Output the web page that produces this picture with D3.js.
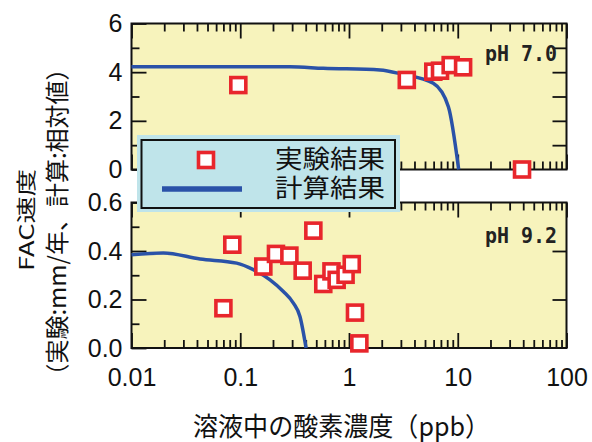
<!DOCTYPE html>
<html><head><meta charset="utf-8">
<script src="https://cdn.jsdelivr.net/npm/d3@7"></script>
<style>html,body{margin:0;padding:0;background:#fff;}svg{display:block;}</style>
</head><body>
<script>
// ---- data ----
const xTickValues = [0.01, 0.1, 1, 10, 100];
const xTickLabels = ["0.01", "0.1", "1", "10", "100"];
const topYTicks = [0, 2, 4, 6];
const topYLabels = ["0", "2", "4", "6"];
const botYTicks = [0, 0.2, 0.4, 0.6];
const botYLabels = ["0.0", "0.2", "0.4", "0.6"];

// pH 7.0 experiment (ppb, relative)
const topExpX = [0.096, 3.40, 5.96, 6.87, 8.61, 11.2, 39];
const topExpY = [3.47, 3.68, 4.02, 4.06, 4.29, 4.20, 0];
// pH 7.0 calculation
const topCalcX = [0.01, 0.1, 0.286, 0.58, 1.93, 3.05, 5.96, 8.2, 10.2];
const topCalcY = [4.22, 4.22, 4.22, 4.16, 4.09, 3.92, 3.54, 2.58, 0];

// pH 9.2 experiment
const botExpX = [0.070, 0.0845, 0.163, 0.213, 0.283, 0.375, 0.47, 0.58, 0.69, 0.77, 0.93, 1.06, 1.135, 1.245];
const botExpY = [0.164, 0.426, 0.336, 0.388, 0.381, 0.319, 0.484, 0.264, 0.316, 0.281, 0.302, 0.346, 0.146, 0.019];
// pH 9.2 calculation
const botCalcX = [0.01, 0.0196, 0.0427, 0.0927, 0.132, 0.188, 0.249, 0.308, 0.354, 0.403];
const botCalcY = [0.385, 0.392, 0.367, 0.350, 0.323, 0.281, 0.233, 0.185, 0.130, 0.0];

const legendLabels = ["実験結果", "計算結果"];
const panelLabels = ["pH 7.0", "pH 9.2"];
const yTitle1 = "FAC速度";
const yTitle2 = "（実験:mm/年、計算:相対値）";
const xTitle = "溶液中の酸素濃度（ppb）";

// ---- layout ----
const W = 592, H = 442;
const L = 131.5, R = 566.5;
const RED = "#e8262c", BLUE = "#2a52a8", YEL = "#f7f3bc", CYAN = "#bfe4ea";
const FONT = "'Liberation Sans', Arial, sans-serif";
const CJK = "'Noto Sans CJK JP', sans-serif";

const svg = d3.select("body").append("svg").attr("width", W).attr("height", H);

const x = d3.scaleLog().domain([0.01, 100]).range([L, R]);
const yTop = d3.scaleLinear().domain([0, 6]).range([169.5, 23.5]);
const yBot = d3.scaleLinear().domain([0, 0.6]).range([348, 202.5]);

const minorX = [];
for (let e = -2; e < 2; e++) for (let m = 2; m <= 9; m++) minorX.push(m * Math.pow(10, e));

function styleAxis(g) {
  g.select(".domain").remove();
  g.selectAll("line").attr("stroke", "#111").attr("stroke-width", 1.8);
  g.selectAll("text").attr("fill", "#111").attr("font-family", FONT).attr("font-size", 25);
}

function panel(y, yMajor, yMajorLabels, yMinor, rightTicks, showX) {
  svg.append("rect").attr("x", L).attr("y", y.range()[1])
    .attr("width", R - L).attr("height", y.range()[0] - y.range()[1])
    .attr("fill", YEL);
  const yb = y.range()[0], yt = y.range()[1];
  const gb = svg.append("g").attr("transform", `translate(0,${yb})`);
  gb.call(d3.axisBottom(x).tickValues(xTickValues).tickSizeInner(-15).tickSizeOuter(0).tickPadding(20)
    .tickFormat((d, i) => showX ? xTickLabels[i] : ""));
  styleAxis(gb);
  const gbm = svg.append("g").attr("transform", `translate(0,${yb})`);
  gbm.call(d3.axisBottom(x).tickValues(minorX).tickSizeInner(-8).tickSizeOuter(0).tickFormat(""));
  styleAxis(gbm);
  const gt = svg.append("g").attr("transform", `translate(0,${yt})`);
  gt.call(d3.axisTop(x).tickValues(xTickValues).tickSizeInner(-15).tickSizeOuter(0).tickFormat(""));
  styleAxis(gt);
  const gtm = svg.append("g").attr("transform", `translate(0,${yt})`);
  gtm.call(d3.axisTop(x).tickValues(minorX).tickSizeInner(-8).tickSizeOuter(0).tickFormat(""));
  styleAxis(gtm);
  const gl = svg.append("g").attr("transform", `translate(${L},0)`);
  gl.call(d3.axisLeft(y).tickValues(yMajor).tickSizeInner(-15).tickSizeOuter(0).tickPadding(9)
    .tickFormat((d, i) => yMajorLabels[i]));
  styleAxis(gl);
  const glm = svg.append("g").attr("transform", `translate(${L},0)`);
  glm.call(d3.axisLeft(y).tickValues(yMinor).tickSizeInner(-8).tickSizeOuter(0).tickFormat(""));
  styleAxis(glm);
  const gr = svg.append("g").attr("transform", `translate(${R},0)`);
  gr.call(d3.axisRight(y).tickValues(rightTicks).tickSizeInner(-14).tickSizeOuter(0).tickFormat(""));
  styleAxis(gr);
  svg.append("rect").attr("x", L).attr("y", yt).attr("width", R - L).attr("height", yb - yt)
    .attr("fill", "none").attr("stroke", "#111").attr("stroke-width", 2);
}

panel(yTop, topYTicks, topYLabels, [1, 3, 5], [1, 2, 3, 4, 5], false);
panel(yBot, botYTicks, botYLabels, [0.1, 0.3, 0.5], [0.2, 0.4], true);

function calcLine(xs, ys, y) {
  const line = d3.line().x(d => x(d[0])).y(d => y(d[1])).curve(d3.curveMonotoneX);
  svg.append("path").datum(xs.map((v, i) => [v, ys[i]]))
    .attr("d", line).attr("fill", "none").attr("stroke", BLUE).attr("stroke-width", 3.5)
    .attr("stroke-linejoin", "round");
}
function expPoints(xs, ys, y) {
  svg.append("g").selectAll("rect").data(xs.map((v, i) => [v, ys[i]])).join("rect")
    .attr("x", d => x(d[0]) - 7.5).attr("y", d => y(d[1]) - 7.5)
    .attr("width", 15).attr("height", 15)
    .attr("fill", "#fff").attr("stroke", RED).attr("stroke-width", 3.6);
}
calcLine(topCalcX, topCalcY, yTop);
expPoints(topExpX, topExpY, yTop);
calcLine(botCalcX, botCalcY, yBot);
expPoints(botExpX, botExpY, yBot);

// panel labels
[[panelLabels[0], 61], [panelLabels[1], 243]].forEach(([t, yy]) => {
  svg.append("text").attr("x", 485).attr("y", yy).text(t)
    .attr("font-family", "'DejaVu Sans Mono', monospace").attr("font-weight", "bold")
    .attr("font-size", 22).attr("fill", "#222")
    .attr("textLength", 72).attr("lengthAdjust", "spacingAndGlyphs");
});

// legend
const lg = svg.append("g");
lg.append("rect").attr("x", 137).attr("y", 135).attr("width", 263).attr("height", 77).attr("fill", CYAN);
lg.append("rect").attr("x", 141.5).attr("y", 140).attr("width", 253.5).attr("height", 68)
  .attr("fill", "none").attr("stroke", "#111").attr("stroke-width", 2);
lg.append("rect").attr("x", 206 - 7.5).attr("y", 160 - 7.5).attr("width", 15).attr("height", 15)
  .attr("fill", "#fff").attr("stroke", RED).attr("stroke-width", 3.6);
lg.append("line").attr("x1", 162).attr("x2", 242).attr("y1", 189).attr("y2", 189)
  .attr("stroke", BLUE).attr("stroke-width", 5.5);
lg.append("text").attr("x", 275).attr("y", 168).text(legendLabels[0])
  .attr("font-family", CJK).attr("font-size", 25).attr("fill", "#111")
  .attr("textLength", 110).attr("lengthAdjust", "spacingAndGlyphs");
lg.append("text").attr("x", 275).attr("y", 197).text(legendLabels[1])
  .attr("font-family", CJK).attr("font-size", 25).attr("fill", "#111")
  .attr("textLength", 110).attr("lengthAdjust", "spacingAndGlyphs");

// axis titles
svg.append("text").attr("transform", "translate(25,220) rotate(-90)")
  .attr("text-anchor", "middle").attr("dominant-baseline", "central")
  .attr("font-family", CJK).attr("font-size", 20).attr("fill", "#111")
  .attr("textLength", 102).attr("lengthAdjust", "spacingAndGlyphs").text(yTitle1);
svg.append("text").attr("transform", "translate(55,222) rotate(-90)")
  .attr("text-anchor", "middle").attr("dominant-baseline", "central")
  .attr("font-family", CJK).attr("font-size", 24).attr("fill", "#111")
  .attr("textLength", 331).attr("lengthAdjust", "spacingAndGlyphs").text(yTitle2);
svg.append("text").attr("x", 341.5).attr("y", 436).attr("text-anchor", "middle")
  .attr("font-family", CJK).attr("font-size", 26).attr("fill", "#111")
  .attr("textLength", 297).attr("lengthAdjust", "spacingAndGlyphs").text(xTitle);
</script>
</body></html>
